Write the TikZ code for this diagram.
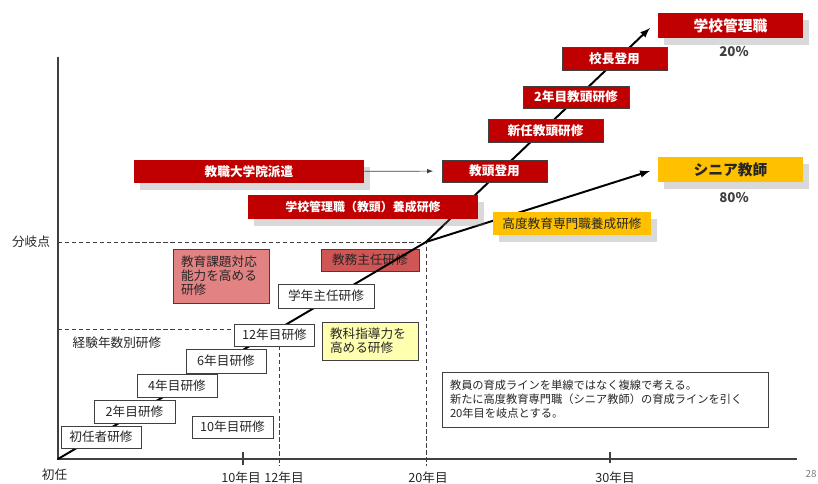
\documentclass[tikz,border=0pt]{standalone}
\usepackage{fontspec}
\setmainfont{Noto Sans CJK JP}
\usetikzlibrary{shadows}

\definecolor{kred}{HTML}{C00000}
\definecolor{kgold}{HTML}{FFC000}
\definecolor{kpink}{HTML}{E38282}
\definecolor{kmid}{HTML}{D05555}
\definecolor{kyel}{HTML}{FFFFB0}
\definecolor{kline}{HTML}{404040}
\definecolor{ktext}{HTML}{262626}

\tikzset{
  box/.style={shape=rectangle,inner sep=0pt,align=center,text=ktext,font=\fontsize{9}{10}\selectfont},
  redbox/.style={box,fill=kred,text=white,font=\bfseries\fontsize{9}{10}\selectfont},
  framed/.style={draw=kline,line width=0.6pt},
  shade/.style={drop shadow={shadow xshift=4pt,shadow yshift=-5pt,fill=gray,opacity=0.3}},
  plainbox/.style={box,framed,fill=white},
  lbl/.style={inner sep=0pt,text=ktext,font=\fontsize{9}{10}\selectfont},
  axis/.style={draw=kline,line width=0.8pt},
  guide/.style={draw=kline,line width=0.6pt,dash pattern=on 3pt off 2pt},
  path/.style={draw=black,line width=1.4pt,line cap=round},
}

\begin{document}
\begin{tikzpicture}[x=0.25mm,y=-0.25mm]
\useasboundingbox (0,0) rectangle (818,484);

\coordinate (o) at (58,459);
\coordinate (b) at (426,242);
\coordinate (t1) at (650,28);
\coordinate (t2) at (650,171);

% axes and guides
\draw[axis] (58,57) -- (o) -- (797,459);
\draw[axis] (243,452) -- (243,465);
\draw[axis] (610,452) -- (610,463);
\draw[guide] (58,242) -- (b) -- (426,466);
\draw[guide] (58,329) -- (234,329);
\draw[guide] (279,346) -- (279,466);

\node[box,framed,fill=kmid] (12) at (370,260) [minimum width=24.5mm,minimum height=5.5mm] {教務主任研修};

% lines
\draw[path] (o) -- (b);
\draw[path,-latex] (b) -- (t1);
\draw[path,-latex] (b) -- (t2);

\node[redbox,shade] (1) at (730.5,25.5) [minimum width=36.25mm,minimum height=6.25mm,font=\bfseries\fontsize{10.5}{12}\selectfont] {学校管理職};
\node[lbl,font=\bfseries\fontsize{9.5}{11}\selectfont,text=kline] (2) at (734,52) {20\%};
\node[redbox,framed] (3) at (614.5,58.5) [minimum width=26.25mm,minimum height=5.75mm] {校長登用};
\node[redbox,framed] (4) at (576,97) [minimum width=26.5mm,minimum height=5.5mm] {2年目教頭研修};
\node[redbox,framed] (5) at (545.5,130.5) [minimum width=28.75mm,minimum height=5.75mm] {新任教頭研修};
\node[redbox,framed] (6) at (494.5,171) [minimum width=26.25mm,minimum height=5.5mm] {教頭登用};
\node[redbox,shade] (7) at (249,171.5) [minimum width=57.5mm,minimum height=5.75mm] {教職大学院派遣};
\node[redbox,shade] (8) at (363,207) [minimum width=57.5mm,minimum height=6mm,font=\bfseries\fontsize{8.5}{10}\selectfont] {学校管理職（教頭）養成研修};
\node[box,shade,fill=kgold] (9) at (730.5,169.5) [minimum width=36.25mm,minimum height=6.25mm,font=\bfseries\fontsize{10.5}{12}\selectfont] {シニア教師};
\node[lbl,font=\bfseries\fontsize{9.5}{11}\selectfont,text=kline] (10) at (734,198) {80\%};
\node[box,shade,fill=kgold] (11) at (572,223.5) [minimum width=39.5mm,minimum height=5.75mm] {高度教育専門職養成研修};

\node[box,framed,fill=kpink,align=left,text width=20mm] (13) at (221,276) [minimum width=24mm,minimum height=13.5mm] {教育課題対応\\能力を高める\\研修};
\node[plainbox] (14) at (326,296) [minimum width=24mm,minimum height=6mm] {学年主任研修};
\node[plainbox] (15) at (274.5,335) [minimum width=20mm,minimum height=5.5mm] {12年目研修};
\node[box,framed,fill=kyel,align=left,text width=20mm] (16) at (370,341) [minimum width=24mm,minimum height=9.5mm] {教科指導力を\\高める研修};
\node[plainbox] (17) at (226,361) [minimum width=20mm,minimum height=6mm] {6年目研修};
\node[plainbox] (18) at (177,385.5) [minimum width=20mm,minimum height=5.75mm] {4年目研修};
\node[plainbox] (19) at (134.5,411.5) [minimum width=20.25mm,minimum height=5.75mm] {2年目研修};
\node[plainbox] (20) at (101,437) [minimum width=20mm,minimum height=5.5mm] {初任者研修};
\node[plainbox] (21) at (232.5,427) [minimum width=20.25mm,minimum height=5.5mm] {10年目研修};
\node[lbl] (22) at (117,343) {経験年数別研修};
\node[plainbox,align=left,text width=77.5mm,font=\fontsize{8}{10}\selectfont] (23) at (605,399.5) [minimum width=81.5mm,minimum height=13.75mm] {教員の育成ラインを単線ではなく複線で考える。\\新たに高度教育専門職（シニア教師）の育成ラインを引く\\20年目を岐点とする。};

\draw[-latex,draw=kline,line width=0.5pt,shorten >=6pt] (7) -- (6);

% axis labels
\node[lbl] (30) at (31,242) {分岐点};
\node[lbl] (31) at (54.5,475) {初任};
\node[lbl] (32) at (241,478) {10年目};
\node[lbl] (33) at (284,478) {12年目};
\node[lbl] (34) at (428,478) {20年目};
\node[lbl] (35) at (615,478) {30年目};
\node[lbl,text=gray,font=\fontsize{7}{8}\selectfont] (36) at (811,474) {28};
\end{tikzpicture}
\end{document}
